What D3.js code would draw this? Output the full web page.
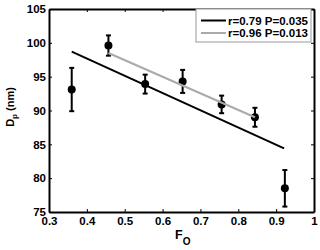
<!DOCTYPE html>
<html>
<head>
<meta charset="utf-8">
<script src="https://cdn.jsdelivr.net/npm/d3@7"></script>
<style>
  body { margin: 0; background: #fff; }
  svg text { font-family: "Liberation Sans", Arial, sans-serif; font-weight: bold; }
</style>
</head>
<body>
<div id="chart"></div>
<script>
// measured points (F_O, D_p, error)
let foVals = [0.36, 0.457, 0.554, 0.653, 0.756, 0.844, 0.923]
let dpVals = [93.1, 99.6, 93.9, 94.3, 90.9, 89.0, 78.5]
let dpErr = [3.2, 1.5, 1.4, 1.7, 1.3, 1.4, 2.7]

// fitted lines, endpoints
let fitAllX = [0.36, 0.921]
let fitAllY = [98.7, 84.4]
let fitSubX = [0.457, 0.844]
let fitSubY = [98.5, 89.0]

let legendLabels = ["r=0.79 P=0.035", "r=0.96 P=0.013"]
let xTicks = [0.3, 0.4, 0.5, 0.6, 0.7, 0.8, 0.9, 1]
let xTickLabels = ["0.3", "0.4", "0.5", "0.6", "0.7", "0.8", "0.9", "1"]
let yTicks = [75, 80, 85, 90, 95, 100, 105]

var width = 320, height = 250
var margin = { left: 49, right: 6, top: 9, bottom: 38 }
var w = width - margin.left - margin.right, h = height - margin.top - margin.bottom

let svg = d3.select("#chart").append("svg")
    .attr("width", width).attr("height", height)

let g = svg.append("g")
    .attr("transform", "translate(" + margin.left + "," + margin.top + ")")

let xScale = d3.scaleLinear().domain([0.3, 1]).range([0, w])
let yScale = d3.scaleLinear().domain([75, 105]).range([h, 0])

// axes, ticks pointing inward on all four sides
let xAxis = g.append("g").attr("transform", "translate(0," + h + ")")
    .call(d3.axisBottom(xScale).tickValues(xTicks)
        .tickFormat((d, i) => xTickLabels[i]).tickSizeInner(-3).tickSizeOuter(0).tickPadding(5))
let xTop = g.append("g")
    .call(d3.axisTop(xScale).tickValues(xTicks).tickFormat("").tickSizeInner(-3).tickSizeOuter(0))
let yAxis = g.append("g")
    .call(d3.axisLeft(yScale).tickValues(yTicks).tickSizeInner(-3).tickSizeOuter(0).tickPadding(3))
let yRight = g.append("g").attr("transform", "translate(" + w + ",0)")
    .call(d3.axisRight(yScale).tickValues(yTicks).tickFormat("").tickSizeInner(-3).tickSizeOuter(0))

g.selectAll(".domain").attr("stroke", "#000").attr("stroke-width", 2)
g.selectAll(".tick line").attr("stroke", "#000").attr("stroke-width", 1)
g.selectAll(".tick text").attr("fill", "#000").style("font-size", "11.5px")

// error bars
let pts = foVals.map((d, i) => [d, dpVals[i], dpErr[i]])
let eb = g.append("g").selectAll("g").data(pts).enter().append("g")
eb.append("line")
    .attr("x1", d => xScale(d[0])).attr("x2", d => xScale(d[0]))
    .attr("y1", d => yScale(d[1] + d[2])).attr("y2", d => yScale(d[1] - d[2]))
    .attr("stroke", "#000").attr("stroke-width", 2)
eb.append("line")
    .attr("x1", d => xScale(d[0]) - 2.5).attr("x2", d => xScale(d[0]) + 2.5)
    .attr("y1", d => yScale(d[1] + d[2])).attr("y2", d => yScale(d[1] + d[2]))
    .attr("stroke", "#000").attr("stroke-width", 2)
eb.append("line")
    .attr("x1", d => xScale(d[0]) - 2.5).attr("x2", d => xScale(d[0]) + 2.5)
    .attr("y1", d => yScale(d[1] - d[2])).attr("y2", d => yScale(d[1] - d[2]))
    .attr("stroke", "#000").attr("stroke-width", 2)
eb.append("circle")
    .attr("cx", d => xScale(d[0])).attr("cy", d => yScale(d[1]))
    .attr("r", 4).attr("fill", "#000")

// fit lines
let line = d3.line().x(d => xScale(d[0])).y(d => yScale(d[1]))
g.append("path").datum(fitAllX.map((d, i) => [d, fitAllY[i]]))
    .attr("d", line).attr("fill", "none").attr("stroke", "#000").attr("stroke-width", 2)
g.append("path").datum(fitSubX.map((d, i) => [d, fitSubY[i]]))
    .attr("d", line).attr("fill", "none").attr("stroke", "#aaaaaa").attr("stroke-width", 2)

// legend
let leg = svg.append("g").attr("transform", "translate(196,9)")
leg.append("rect").attr("x", 0).attr("y", 0).attr("width", 115).attr("height", 33)
    .attr("fill", "#fff").attr("stroke", "#999").attr("stroke-width", 1)
let legColors = ["#000", "#aaaaaa"]
legendLabels.forEach(function (lab, i) {
    let yy = 11.5 + i * 12.5
    leg.append("line").attr("x1", 5).attr("x2", 30).attr("y1", yy).attr("y2", yy)
        .attr("stroke", legColors[i]).attr("stroke-width", 2)
    leg.append("text").attr("x", 32).attr("y", yy).attr("dy", "0.35em")
        .style("font-size", "11.5px").text(lab)
})

// axis labels
let xl = svg.append("text").attr("x", 175).attr("y", 239).style("font-size", "12.5px")
xl.append("tspan").text("F")
xl.append("tspan").attr("dy", 6).style("font-size", "10px").text("O")

let yl = svg.append("text").attr("transform", "translate(14,107) rotate(-90)")
    .attr("text-anchor", "middle").style("font-size", "11px")
yl.append("tspan").text("D")
yl.append("tspan").attr("dy", 3).style("font-size", "8px").text("p")
yl.append("tspan").attr("dy", -3).text(" (nm)")
</script>
</body>
</html>
